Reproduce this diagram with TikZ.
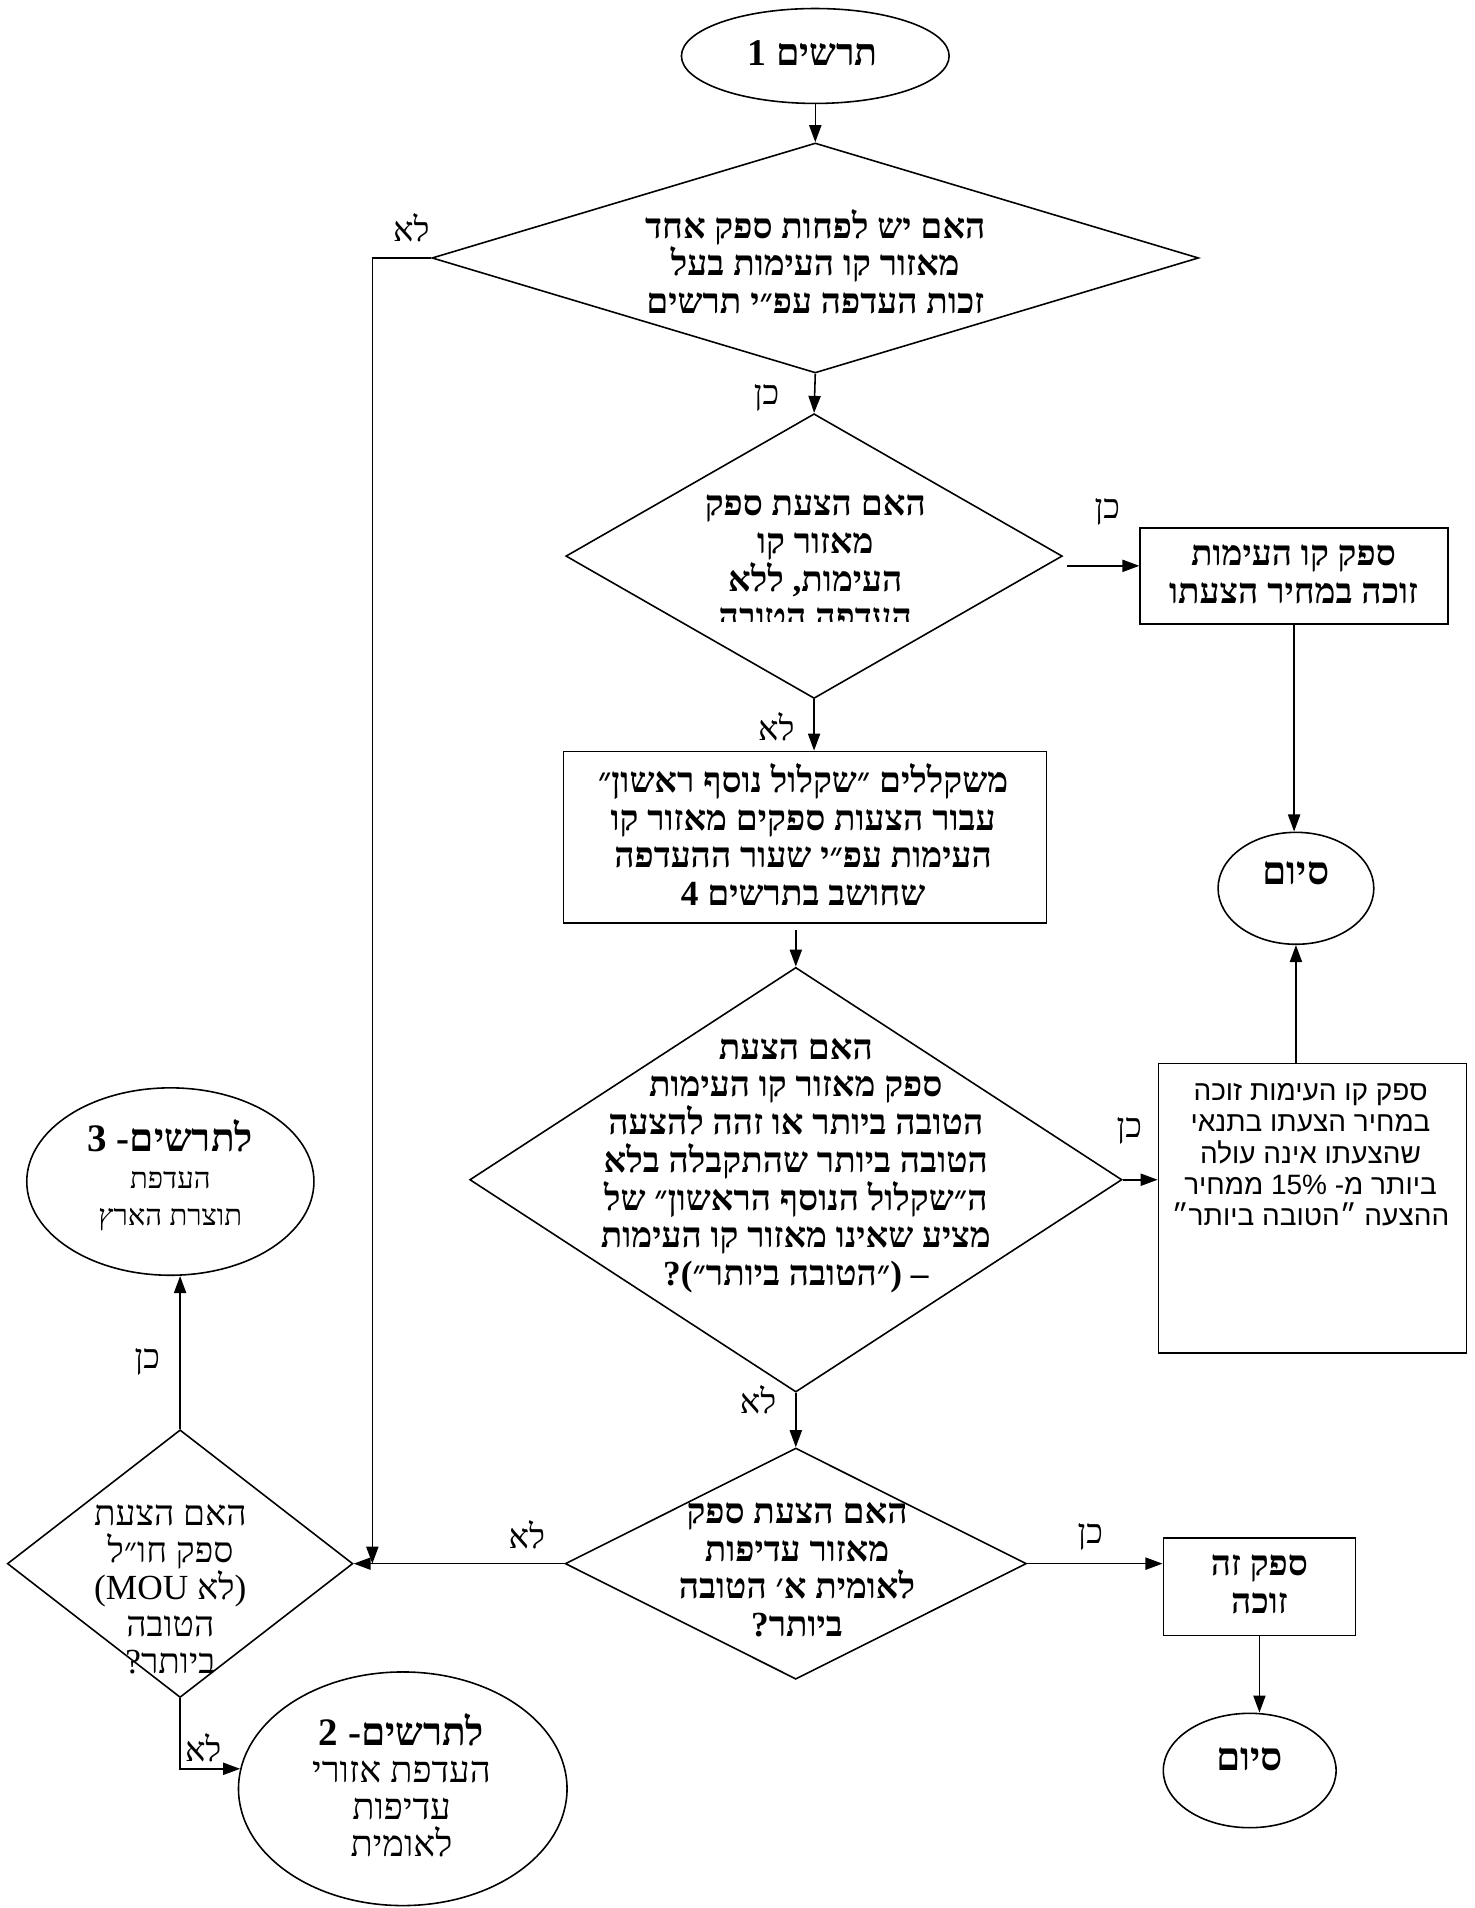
\documentclass[tikz,border=0pt]{standalone}
\usepackage{fontspec}
\usetikzlibrary{shapes.geometric,arrows.meta,calc}
\TeXXeTstate=1
\lineskiplimit=-100pt
\lineskip=0pt
\newfontfamily\hbm[Script=Hebrew]{Liberation Serif}
\newfontfamily\latm{Liberation Serif}
\newfontfamily\hbs[Script=Hebrew]{Liberation Sans}
\newfontfamily\hbw[Script=Hebrew]{Liberation Serif}
\newfontfamily\latw{Liberation Serif}
\newcommand\heb[1]{\beginR#1\endR}
\newcommand\tight{\lineskiplimit=-100pt\lineskip=0pt}
\tikzset{
  shp/.style={draw, line width=1.3pt, inner sep=0pt},
  dia/.style={shp, diamond},
  ell/.style={shp, ellipse},
  boxn/.style={shp, rectangle},
  txt/.style={align=center, inner sep=0pt, font=\hbm\bfseries\fontsize{29}{31}\selectfont\tight},
  stxt/.style={align=center, inner sep=0pt, font=\hbs\fontsize{23}{25.7}\selectfont\tight},
  wtxt/.style={align=center, inner sep=0pt, font=\hbw\fontsize{29}{30.5}\selectfont\tight},
  lbl/.style={inner sep=0pt, font=\hbm\fontsize{28}{31}\selectfont},
  arr/.style={line width=1.3pt, -{Triangle[length=14pt,width=10pt]}},
}
\begin{document}
\begin{tikzpicture}[x=1pt,y=-1pt]
\useasboundingbox (0,0) rectangle (1212,1568);
% shapes
\node[ell, minimum width=220pt, minimum height=78pt] (start) at (670,46) {};
\node[dia, minimum width=630pt, minimum height=189pt] (D1) at (670,212) {};
\node[dia, minimum width=408pt, minimum height=234pt] (D2) at (669,457) {};
\node[boxn, minimum width=253pt, minimum height=79pt] (B1) at (1063.5,473.5) {};
\node[ell, minimum width=128pt, minimum height=92pt] (S1) at (1065,730) {};
\node[boxn, minimum width=397pt, minimum height=141pt] (B2) at (661.5,688) {};
\node[dia, minimum width=536pt, minimum height=349pt] (D3) at (654,969.5) {};
\node[boxn, minimum width=253pt, minimum height=238pt] (B3) at (1078.5,993) {};
\node[dia, minimum width=379pt, minimum height=190pt] (D4) at (654,1285) {};
\node[boxn, minimum width=158pt, minimum height=80pt] (B4) at (1035,1304) {};
\node[ell, minimum width=142pt, minimum height=94pt] (S2) at (1027,1455) {};
\node[dia, minimum width=284pt, minimum height=220pt] (D5) at (148,1285) {};
\node[ell, minimum width=236pt, minimum height=154pt] (E3) at (140,971) {};
\node[ell, minimum width=270pt, minimum height=192pt] (E2) at (331,1470) {};
% texts
\node[txt, font=\hbm\bfseries\fontsize{31}{34}\selectfont] (tS) at (668,44) {\heb{תרשים 1}};
\node[txt] (t1) at (670,215) {\heb{האם יש לפחות ספק אחד}\\\heb{מאזור קו העימות בעל}\\\heb{זכות העדפה עפ״י תרשים}};
\begin{scope}
\clip (450,330) rectangle (890,511);
\node[txt] (t2) at (670,462) {\heb{האם הצעת ספק}\\\heb{מאזור קו}\\\heb{העימות, ללא}\\\heb{העדפה הטובה}};
\end{scope}
\node[txt] (tB1) at (1063,472) {\heb{ספק קו העימות}\\\heb{זוכה במחיר הצעתו}};
\node[txt, font=\hbm\bfseries\fontsize{32}{31}\selectfont] (tS1) at (1065,718) {\heb{סיום}};
\node[txt] (tB2) at (660,686) {\heb{משקללים ״שקלול נוסף ראשון״}\\\heb{עבור הצעות ספקים מאזור קו}\\\heb{העימות עפ״י שעור ההעדפה}\\\heb{שחושב בתרשים 4}};
\node[txt] (t3) at (654,958) {\heb{האם הצעת}\\\heb{ספק מאזור קו העימות}\\\heb{הטובה ביותר או זהה להצעה}\\\heb{הטובה ביותר שהתקבלה בלא}\\\heb{ה״שקלול הנוסף הראשון״ של}\\\heb{מציע שאינו מאזור קו העימות}\\\beginL{\latm ?(}\heb{״הטובה ביותר״}{\latm ) –}\endL};
\node[stxt] (tB3) at (1077,949) {\heb{ספק קו העימות זוכה}\\\heb{במחיר הצעתו בתנאי}\\\heb{שהצעתו אינה עולה}\\\heb{ביותר מ- 15\% ממחיר}\\\heb{ההצעה ״הטובה ביותר״}};
\node[txt] (t4) at (655,1290) {\heb{האם הצעת ספק}\\\heb{מאזור עדיפות}\\\heb{לאומית א׳ הטובה}\\\heb{ביותר?}};
\node[txt] (tB4) at (1035,1302) {\heb{ספק זה}\\\heb{זוכה}};
\node[txt, font=\hbm\bfseries\fontsize{32}{31}\selectfont] (tS2) at (1027,1446) {\heb{סיום}};
\node[wtxt] (t5) at (140,1306) {\heb{האם הצעת}\\\heb{ספק חו״ל}\\\beginL{\latw (MOU }\heb{לא}{\latw )}\endL\\\heb{הטובה}\\\heb{ביותר?}};
\node[wtxt] (tE3) at (140,966) {{\bfseries\fontsize{32}{31}\selectfont\heb{לתרשים- 3}}\\{\fontsize{24}{26}\selectfont\heb{העדפת}}\\{\fontsize{24}{26}\selectfont\heb{תוצרת הארץ}}};
\node[wtxt] (tE2) at (330,1467) {{\bfseries\fontsize{32}{31}\selectfont\heb{לתרשים- 2}}\\{\fontsize{30}{32}\selectfont\heb{העדפת אזורי}}\\{\fontsize{30}{32}\selectfont\heb{עדיפות}}\\{\fontsize{30}{32}\selectfont\heb{לאומית}}};
% connectors
\coordinate (j) at (306,1285);
\coordinate (d2o) at ($(D2.east)+(3,8)$);
\draw[arr] (start.south) -- (D1.north);
\draw[arr] (D1.south) -- (D2.north);
\draw[arr] (d2o) -- (d2o -| B1.west);
\draw[arr] (B1.south) -- (B1.south |- S1.north);
\draw[arr] (D2.south) -- (D2.south |- B2.north);
\draw[arr] ($(D3.north |- B2.south)+(0,5)$) -- (D3.north);
\draw[arr] (D3.east) -- (D3.east -| B3.west);
\draw[arr] (S1.south |- B3.north) -- (S1.south);
\draw[arr] (D3.south) -- (D4.north);
\draw[arr] (D4.east) -- (D4.east -| B4.west);
\draw[arr] (B4.south) -- (B4.south |- S2.north);
\draw[arr] (D4.west) -- (D5.east);
\draw[arr] (D1.west) -| (j);
\draw[arr] (D5.north) -- (D5.north |- E3.south);
\draw[arr] (D5.south) |- (E2.173);
% labels
\node[lbl] (l1) at (338,187) {\heb{לא}};
\node[lbl] (l2) at (630,327) {\heb{כן}};
\node[lbl] (l3) at (910,421) {\heb{כן}};
\node[lbl] (l4) at (638,597) {\heb{לא}};
\node[lbl] (l5) at (928,929) {\heb{כן}};
\node[lbl] (l6) at (623,1150) {\heb{לא}};
\node[lbl] (l7) at (896,1263) {\heb{כן}};
\node[lbl] (l8) at (433,1261) {\heb{לא}};
\node[lbl] (l9) at (121,1119) {\heb{כן}};
\node[lbl] (l10) at (167,1436) {\heb{לא}};
\end{tikzpicture}
\end{document}
